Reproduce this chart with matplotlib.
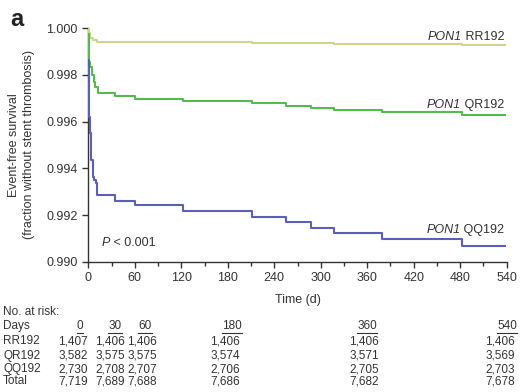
import matplotlib.pyplot as plt
from matplotlib.lines import Line2D
from matplotlib.transforms import offset_copy

plt.rcParams['font.family'] = ['Liberation Sans', 'DejaVu Sans']

# Kaplan-Meier step data (days, event-free survival)
rr_days = [0, 1, 2.5, 6, 11, 122, 211, 255, 317, 378.5, 482, 538]
rr_surv = [1.0, 0.9998, 0.99957, 0.99948, 0.99943, 0.9994, 0.99937, 0.99936,
           0.99934, 0.99932, 0.9993, 0.9993]

qr_days = [0, 0.4, 2.6, 4.7, 6.8, 9, 12.5, 35, 60, 122, 211, 255, 288, 317,
           378.5, 482, 538]
qr_surv = [0.99975, 0.99857, 0.99836, 0.998, 0.99771, 0.9975, 0.99722, 0.9971,
           0.99699, 0.99689, 0.99679, 0.99667, 0.9966, 0.9965, 0.9964,
           0.99629, 0.99629]

qq_days = [0, 0.3, 0.8, 1.5, 2.2, 3.0, 4.0, 5.5, 6.5, 8.0, 9.5, 11.5, 34.5,
           60.3, 122, 211, 255, 288, 317, 378.5, 481.8, 538]
qq_surv = [0.99865, 0.998, 0.997, 0.9962, 0.9955, 0.9948, 0.99436, 0.994,
           0.99365, 0.9935, 0.99336, 0.99286, 0.99262, 0.99242, 0.99218,
           0.99193, 0.99169, 0.99146, 0.99122, 0.99096, 0.99068, 0.99068]

# numbers at risk
risk_days = ['0', '30', '60', '180', '360', '540']
risk_rr = ['1,407', '1,406', '1,406', '1,406', '1,406', '1,406']
risk_qr = ['3,582', '3,575', '3,575', '3,574', '3,571', '3,569']
risk_qq = ['2,730', '2,708', '2,707', '2,706', '2,705', '2,703']
risk_total = ['7,719', '7,689', '7,688', '7,686', '7,682', '7,678']

W, H = 525, 392
fig = plt.figure(figsize=(W / 100, H / 100), dpi=100)
ax = fig.add_axes([88.3 / W, 1 - 261.7 / H, (506.7 - 88.3) / W, (261.7 - 28.3) / H])

dark = '#333333'
ax.step(rr_days, rr_surv, where='post', color='#d3d48c', lw=1.5)
ax.step(qr_days, qr_surv, where='post', color='#55bb50', lw=1.5)
ax.step(qq_days, qq_surv, where='post', color='#5b5fb5', lw=1.5)

ax.set_xlim(0, 540)
ax.set_ylim(0.990, 1.000)
ax.set_xticks(range(0, 541, 60))
ax.set_xticks(range(30, 541, 60), minor=True)
ax.set_yticks([0.990, 0.992, 0.994, 0.996, 0.998, 1.000])
ax.set_yticklabels(['0.990', '0.992', '0.994', '0.996', '0.998', '1.000'])
ax.tick_params(which='both', direction='out', color=dark, labelcolor=dark, labelsize=9, width=1)
ax.tick_params(which='major', length=4)
ax.tick_params(which='minor', length=3)
for s in ['top', 'right']:
    ax.spines[s].set_visible(False)
for s in ['left', 'bottom']:
    ax.spines[s].set_color(dark)
    ax.spines[s].set_linewidth(1)
    ax.spines[s].set_zorder(0)

ax.set_xlabel('Time (d)', fontsize=9, color=dark, labelpad=7)
ax.set_ylabel('Event-free survival\n(fraction without stent thrombosis)', fontsize=9,
              color=dark, labelpad=8, linespacing=1.35)

fig.text(17 / W, 1 - 20 / H, 'a', fontsize=17, fontweight='bold', ha='center', va='center', color='#222222')

fig.canvas.draw()
r = fig.canvas.get_renderer()


def mixed_label(x, y, italic, plain, ha='right'):
    # italic gene name followed by upright genotype
    if ha == 'right':
        t2 = ax.text(x, y, plain, ha='right', va='baseline', fontsize=9, color=dark)
        w = t2.get_window_extent(r).width
        tr = offset_copy(ax.transData, fig=fig, x=-w * 72 / fig.dpi, y=0, units='points')
        ax.text(x, y, italic, ha='right', va='baseline', fontsize=9, color=dark,
                style='italic', transform=tr)
    else:
        t1 = ax.text(x, y, italic, ha='left', va='baseline', fontsize=9, color=dark, style='italic')
        w = t1.get_window_extent(r).width
        tr = offset_copy(ax.transData, fig=fig, x=w * 72 / fig.dpi, y=0, units='points')
        ax.text(x, y, plain, ha='left', va='baseline', fontsize=9, color=dark, transform=tr)


mixed_label(537, 0.9995, 'PON1', ' RR192')
mixed_label(537, 0.99659, 'PON1', ' QR192')
mixed_label(537, 0.99122, 'PON1', ' QQ192')
mixed_label(17, 0.99068, 'P', ' < 0.001', ha='left')


def px(x, y):
    return x / W, 1 - y / H


# at-risk table
fs = 8.5
fig.text(*px(3, 311.7), 'No. at risk:', fontsize=fs, va='center', ha='left', color=dark)
row_names = ['Days', 'RR192', 'QR192', 'QQ192', 'Total']
row_y = [326, 341.5, 355.5, 369, 381]
for name, y in zip(row_names, row_y):
    fig.text(*px(3, y), name, fontsize=fs, va='center', ha='left', color=dark)

head_x = [80, 115, 145, 232, 367, 507]
num_right = [88, 125, 157, 240, 379, 515]
headers = []
for lab, x in zip(risk_days, head_x):
    headers.append(fig.text(*px(x, row_y[0]), lab, fontsize=fs, va='center', ha='center', color=dark))
for vals, y in zip([risk_rr, risk_qr, risk_qq, risk_total], row_y[1:]):
    for v, x in zip(vals, num_right):
        fig.text(*px(x, y), v, fontsize=fs, va='center', ha='right', color=dark)

fig.canvas.draw()
for t in headers:
    bb = t.get_window_extent(r)
    yline = bb.y0 - 0.5
    fig.add_artist(Line2D([bb.x0 / W, bb.x1 / W], [yline / H, yline / H],
                          color=dark, lw=0.8, transform=fig.transFigure))

fig.savefig('out.png', dpi=100)
